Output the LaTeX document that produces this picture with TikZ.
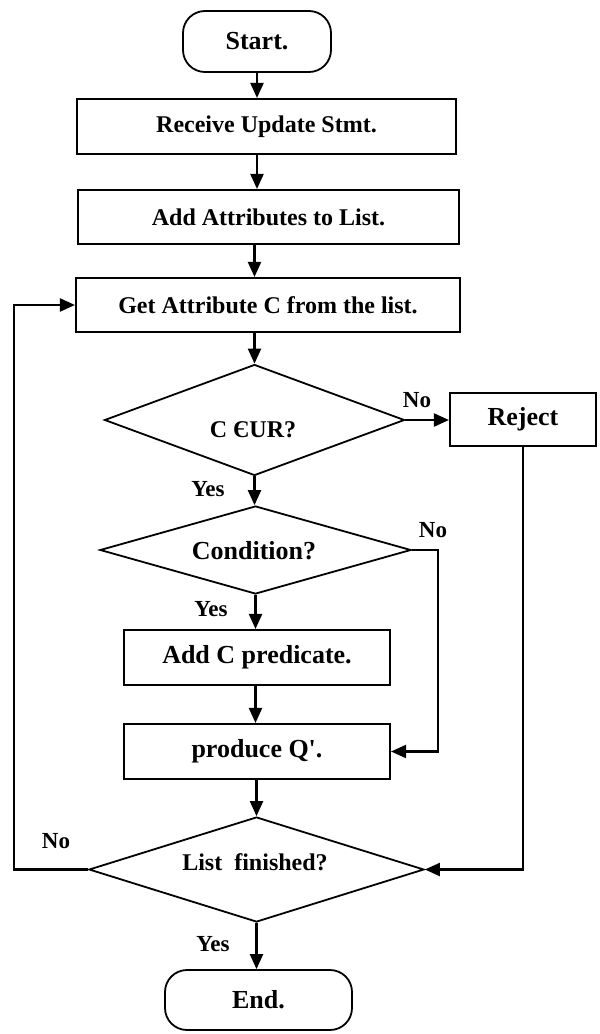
\documentclass[tikz,border=0pt]{standalone}
\usepackage{fontspec}
\setmainfont{Liberation Serif}[Ligatures=TeXOff]
\usetikzlibrary{arrows.meta,shapes.geometric}
\tikzset{
  txt/.style={font=\fontsize{24}{29}\selectfont\bfseries},
  bigtxt/.style={font=\fontsize{26}{31}\selectfont\bfseries},
  lbl/.style={font=\fontsize{23}{28}\selectfont\bfseries, inner sep=0},
  stepbox/.style={draw, line width=2.1pt, inner sep=0, txt},
  terminal/.style={draw, line width=1.8pt, rounded corners=22pt, inner sep=0, bigtxt},
  decision/.style={draw, diamond, line width=1.8pt, inner sep=0},
  arr/.style={line width=2.2pt, -{Triangle[length=15pt, width=13pt]}}
}
\begin{document}
\begin{tikzpicture}[x=1pt, y=-1pt]
  \useasboundingbox (0,0) rectangle (600,1034);

  % process steps
  \node[terminal, minimum width=148pt, minimum height=61pt] (start) at (257,41.5) {Start.};
  \node[stepbox, minimum width=379pt, minimum height=55pt] (recv) at (266.5,126.5) {Receive Update Stmt.};
  \node[stepbox, minimum width=381pt, minimum height=54pt] (addattr) at (268.5,217) {Add Attributes to List.};
  \node[stepbox, minimum width=384pt, minimum height=54pt] (getattr) at (268,305) {Get Attribute C from the list.};

  % membership test
  \node[decision, minimum width=300pt, minimum height=111pt] (d1) at (254.5,420) {};
  \node[txt, inner sep=0, anchor=base] (d1t) at (253,437) {C ЄUR?};
  \node[stepbox, bigtxt, minimum width=146pt, minimum height=53pt] (reject) at (523,419.5) {Reject};

  % condition test
  \node[decision, minimum width=311pt, minimum height=88pt] (d2) at (255.5,550) {};
  \node[bigtxt, inner sep=0, anchor=base] (d2t) at (254,559) {Condition?};
  \node[stepbox, bigtxt, minimum width=266pt, minimum height=55pt] (addc) at (257,657.5) {Add C predicate.};
  \node[stepbox, bigtxt, minimum width=266pt, minimum height=55pt] (produce) at (257,751.5) {produce Q'.};

  % loop test
  \node[decision, minimum width=335pt, minimum height=105pt] (d3) at (256.5,869.5) {};
  \node[txt, inner sep=0, anchor=base] (d3t) at (255,870) {List\ \ finished?};
  \node[terminal, minimum width=187pt, minimum height=60pt] (end) at (258.5,1000) {End.};

  % branch labels
  \node[lbl] (no1) at (417,400) {No};
  \node[lbl] (yes1) at (208,489) {Yes};
  \node[lbl] (no2) at (433,530) {No};
  \node[lbl] (yes2) at (211,609) {Yes};
  \node[lbl] (no3) at (56,841) {No};
  \node[lbl] (yes3) at (213,944) {Yes};

  % bend points
  \coordinate (d2no) at (438,550);
  \coordinate (loopx) at (14,869.5);

  % main flow
  \draw[arr] (start.south) -- (start.south |- recv.north);
  \draw[arr] (start.south |- recv.south) -- (start.south |- addattr.north);
  \draw[arr] (d1.north |- addattr.south) -- (d1.north |- getattr.north);
  \draw[arr] (d1.north |- getattr.south) -- (d1.north);
  \draw[arr] (d1.south) -- (d1.south |- d2.north);
  \draw[arr] (d2.south) -- (d2.south |- addc.north);
  \draw[arr] (d2.south |- addc.south) -- (d2.south |- produce.north);
  \draw[arr] (d3.north |- produce.south) -- (d3.north);
  \draw[arr] (d3.south) -- (d3.south |- end.north);

  % side branches
  \draw[arr] (d1.east) -- (d1.east -| reject.west);
  \draw[arr] (reject.south) |- (d3.east);
  \draw[arr] (d2.east) -- (d2no) |- (produce.east);
  \draw[arr] (d3.west) -- (loopx) |- (getattr.west);
\end{tikzpicture}
\end{document}
